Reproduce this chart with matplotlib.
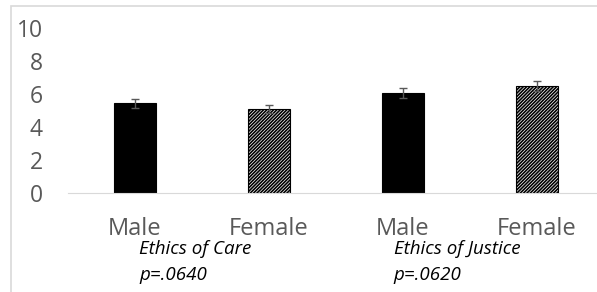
import matplotlib.pyplot as plt
from matplotlib.patches import Rectangle

labels = ["Male", "Female", "Male", "Female"]
means = [5.45, 5.1, 6.06, 6.48]
errs = [0.27, 0.25, 0.28, 0.3]
hatches = ["", "//////////", "", "//////////"]
faces = ["black", "white", "black", "white"]

groups = ["Ethics of Care\np=.0640", "Ethics of Justice\np=.0620"]
group_x = [0.03, 1.93]

plt.rcParams["font.family"] = ["Open Sans", "DejaVu Sans"]
plt.rcParams["hatch.linewidth"] = 1.2

fig = plt.figure(figsize=(5.97, 2.92), dpi=100)
fig.patches.append(Rectangle((11 / 597, -0.1), 1.2, (286 / 292) + 0.1,
                             transform=fig.transFigure, fill=False,
                             edgecolor="#d9d9d9", linewidth=1.2))
ax = fig.add_axes([68 / 597, 99 / 292, 536 / 597, 165 / 292])

x = range(len(labels))
for i in x:
    ax.bar(i, means[i], width=0.31, color=faces[i], edgecolor="black",
           hatch=hatches[i], linewidth=0.8)
ax.errorbar(list(x), means, yerr=errs, fmt="none", ecolor="#595959",
            elinewidth=1, capsize=3, capthick=1)

ax.set_xlim(-0.5, 3.5)
ax.set_ylim(0, 10)
ax.set_yticks([0, 2, 4, 6, 8, 10])
ax.set_xticks(list(x))
ax.set_xticklabels(labels)
ax.tick_params(axis="y", length=0, pad=18, labelsize=16.5, labelcolor="#595959")
ax.tick_params(axis="x", length=0, pad=17, labelsize=17, labelcolor="#595959")
for s in ["top", "right", "left"]:
    ax.spines[s].set_visible(False)
ax.spines["bottom"].set_color("#d9d9d9")
ax.patch.set_alpha(0)

for gx, g in zip(group_x, groups):
    ax.text(gx, -2.85, g, ha="left", va="top", style="italic", fontsize=13.5,
            linespacing=1.55)

fig.savefig("out.png", dpi=100)
